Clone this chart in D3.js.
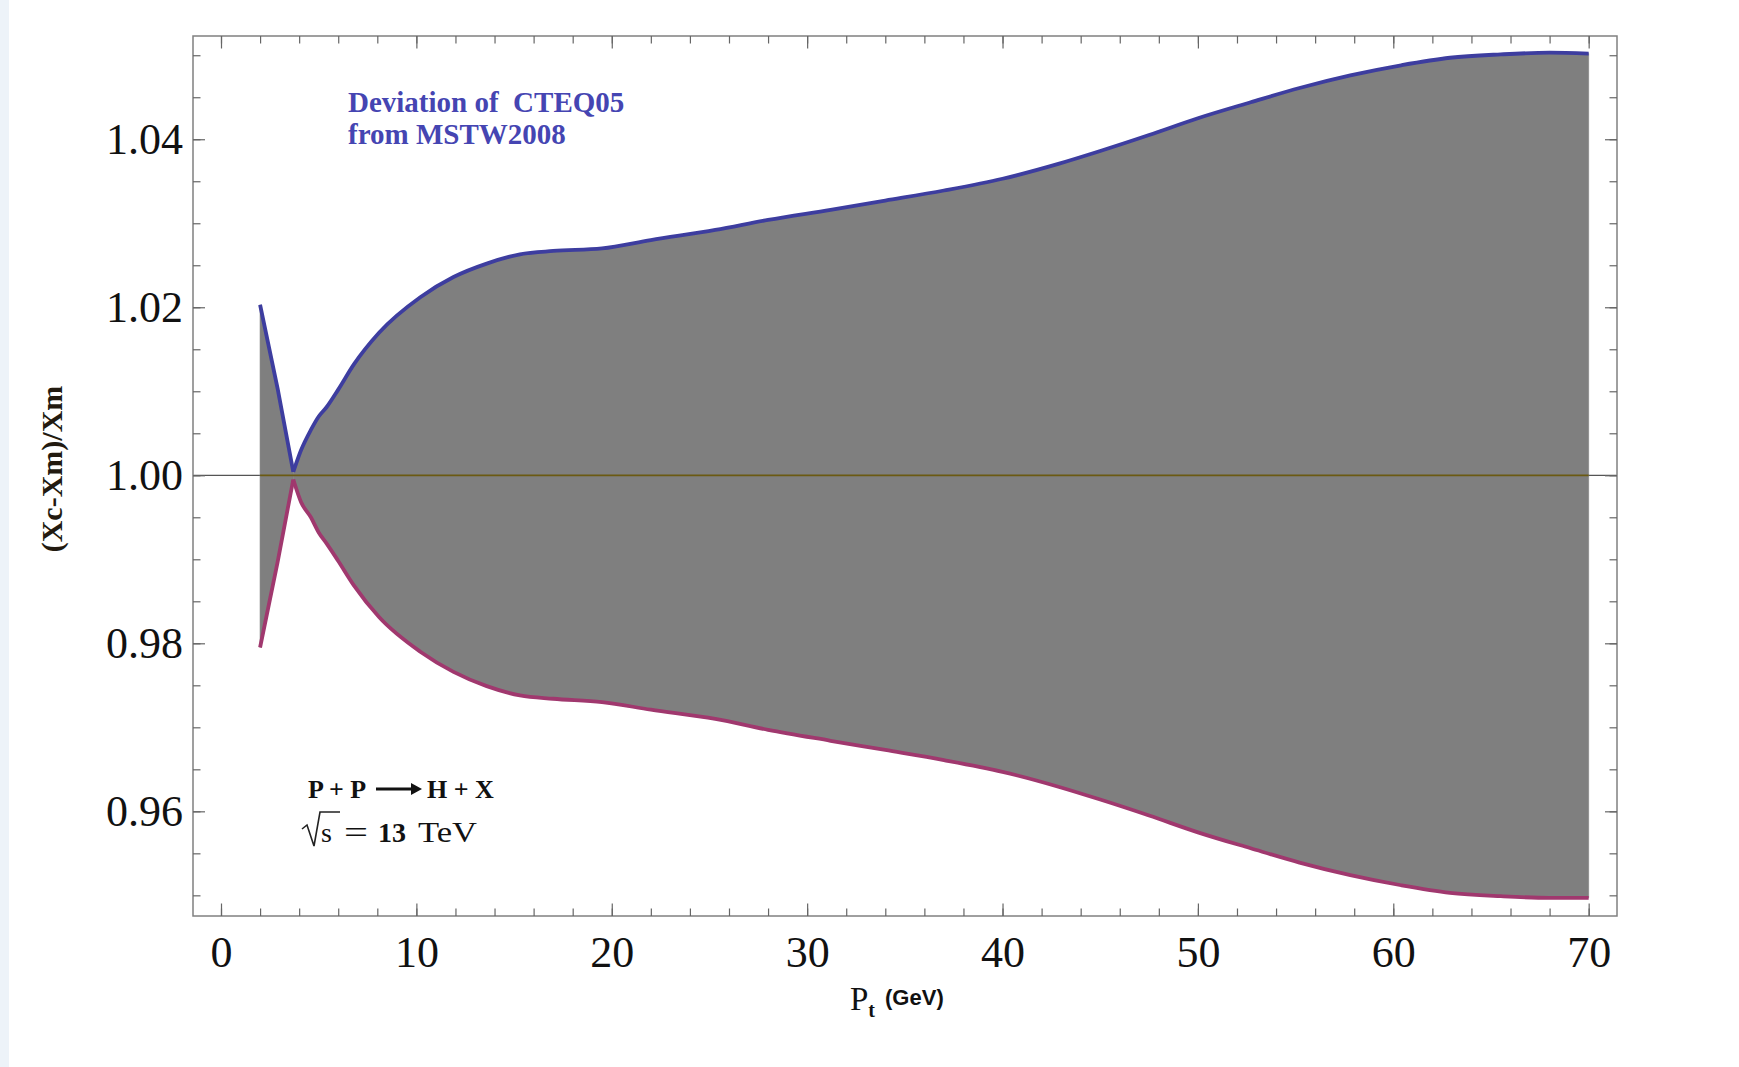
<!DOCTYPE html>
<html>
<head>
<meta charset="utf-8">
<script src="https://cdn.jsdelivr.net/npm/d3@7"></script>
<style>
  html, body { margin: 0; padding: 0; background: #ffffff; }
  svg { display: block; }
  text.pre { white-space: pre; }
</style>
</head>
<body>
<svg id="chart" width="1739" height="1067"></svg>
<script>
// Transverse momentum of the Higgs boson (GeV)
const pt = [2, 2.9, 3.7, 4.1, 4.6, 5.0, 5.4, 6.0, 6.8, 8.1, 10.2, 11.9, 13.6, 15.3, 17.0, 19.5,
            22, 25.3, 28, 31.2, 34, 37, 40, 42.9, 45, 47.5, 50, 52.7, 55.2, 57.8, 60.4, 62.9,
            65.5, 68, 70];

// Upper edge of the CTEQ05 / MSTW2008 deviation band
const upperBand = [1.0203, 1.0103, 1.0004, 1.0030, 1.0054, 1.0070, 1.0081, 1.0102, 1.0132,
                   1.0170, 1.0212, 1.0236, 1.0252, 1.0263, 1.0267, 1.0270, 1.0280, 1.0292,
                   1.0304, 1.0316, 1.0327, 1.0339, 1.0353, 1.0371, 1.0386, 1.0405, 1.0425,
                   1.0444, 1.0461, 1.0476, 1.0488, 1.0497, 1.0501, 1.0503, 1.0502];

// Lower edge of the band
const lowerBand = [0.9795, 0.9897, 0.9995, 0.9968, 0.9950, 0.9932, 0.9919, 0.9898, 0.9869,
                   0.9831, 0.9790, 0.9766, 0.9749, 0.9738, 0.9734, 0.9730, 0.9721, 0.9710,
                   0.9697, 0.9684, 0.9673, 0.9661, 0.9647, 0.9629, 0.9614, 0.9595, 0.9575,
                   0.9556, 0.9539, 0.9524, 0.9512, 0.9503, 0.9499, 0.9497, 0.9497];

// Reference ratio (no deviation)
const referenceLevel = 1.0;

// Axis ticks
const xMajorTicks = [0, 10, 20, 30, 40, 50, 60, 70];
const xMinorTicks = d3.range(0, 71, 2);
const yMajorTicks = [0.96, 0.98, 1.00, 1.02, 1.04];
const yTickLabels = ["0.96", "0.98", "1.00", "1.02", "1.04"];
const yMinorTicks = d3.range(0, 21).map(i => +(0.95 + i * 0.005).toFixed(3));

const svg = d3.select("#chart");

// Plot frame and scales
const frame = { left: 193, right: 1617, top: 36, bottom: 916 };
const x = d3.scaleLinear().domain([-1.433, 71.45]).range([frame.left, frame.right]);
const y = d3.scaleLinear().domain([0.94754, 1.05229]).range([frame.bottom, frame.top]);

// Faint strip on the far left of the page
svg.append("rect").attr("x", 0).attr("y", 0).attr("width", 9).attr("height", 1067)
  .attr("fill", "#edf3f9");

const rows = pt.map((p, i) => ({ p, hi: upperBand[i], lo: lowerBand[i] }));
// The band pinches to a sharp point at the third sample; draw the left part straight
const cusp = 2;
const segments = [
  { data: rows.slice(0, cusp + 1), curve: d3.curveLinear },
  { data: rows.slice(cusp), curve: d3.curveMonotoneX }
];

// Horizontal axis line at ratio 1
svg.append("line")
  .attr("x1", frame.left).attr("x2", frame.right)
  .attr("y1", y(referenceLevel)).attr("y2", y(referenceLevel))
  .attr("stroke", "#555555").attr("stroke-width", 1.3);

// Filled band
segments.forEach(seg => {
  svg.append("path")
    .datum(seg.data)
    .attr("fill", "#7f7f7f")
    .attr("stroke", "#7f7f7f")
    .attr("stroke-width", 0.6)
    .attr("d", d3.area().curve(seg.curve).x(d => x(d.p)).y0(d => y(d.lo)).y1(d => y(d.hi)));
});

// Reference level inside the band
svg.append("line")
  .attr("x1", x(pt[0])).attr("x2", x(pt[pt.length - 1]))
  .attr("y1", y(referenceLevel)).attr("y2", y(referenceLevel))
  .attr("stroke", "#6b5a12").attr("stroke-width", 1.8);

// Band edges
const edges = [
  { key: "lo", color: "#a0386e" },
  { key: "hi", color: "#3d3d9f" }
];
edges.forEach(e => {
  segments.forEach(seg => {
    svg.append("path")
      .datum(seg.data)
      .attr("fill", "none")
      .attr("stroke", e.color)
      .attr("stroke-width", 3.8)
      .attr("stroke-linejoin", "round")
      .attr("d", d3.line().curve(seg.curve).x(d => x(d.p)).y(d => y(d[e.key])));
  });
});

// Frame
svg.append("rect")
  .attr("x", frame.left).attr("y", frame.top)
  .attr("width", frame.right - frame.left).attr("height", frame.bottom - frame.top)
  .attr("fill", "none").attr("stroke", "#808080").attr("stroke-width", 1.5);

// Axes: ticks point inward on all four sides
function styleAxis(g) {
  g.select(".domain").remove();
  g.selectAll(".tick line").attr("stroke", "#666666").attr("stroke-width", 1.2);
}

const tickFont = "'Liberation Serif', 'Times New Roman', serif";

// bottom
svg.append("g").attr("transform", `translate(0,${frame.bottom})`)
  .call(d3.axisBottom(x).tickValues(xMinorTicks).tickSizeInner(-7.5).tickSizeOuter(0).tickFormat(""))
  .call(styleAxis);
svg.append("g").attr("transform", `translate(0,${frame.bottom})`)
  .call(d3.axisBottom(x).tickValues(xMajorTicks).tickSizeInner(-12.5).tickSizeOuter(0).tickPadding(20)
    .tickFormat(d3.format("d")))
  .call(styleAxis)
  .call(g => g.selectAll("text").attr("font-family", tickFont).attr("font-size", 44).attr("fill", "#111"));

// top
svg.append("g").attr("transform", `translate(0,${frame.top})`)
  .call(d3.axisTop(x).tickValues(xMinorTicks).tickSizeInner(-7.5).tickSizeOuter(0).tickFormat(""))
  .call(styleAxis);
svg.append("g").attr("transform", `translate(0,${frame.top})`)
  .call(d3.axisTop(x).tickValues(xMajorTicks).tickSizeInner(-12.5).tickSizeOuter(0).tickFormat(""))
  .call(styleAxis);

// left
svg.append("g").attr("transform", `translate(${frame.left},0)`)
  .call(d3.axisLeft(y).tickValues(yMinorTicks).tickSizeInner(-7.5).tickSizeOuter(0).tickFormat(""))
  .call(styleAxis);
svg.append("g").attr("transform", `translate(${frame.left},0)`)
  .call(d3.axisLeft(y).tickValues(yMajorTicks).tickSizeInner(-12).tickSizeOuter(0).tickPadding(10)
    .tickFormat((d, i) => yTickLabels[i]))
  .call(styleAxis)
  .call(g => g.selectAll("text").attr("font-family", tickFont).attr("font-size", 44).attr("fill", "#111"));

// right
svg.append("g").attr("transform", `translate(${frame.right},0)`)
  .call(d3.axisRight(y).tickValues(yMinorTicks).tickSizeInner(-7.5).tickSizeOuter(0).tickFormat(""))
  .call(styleAxis);
svg.append("g").attr("transform", `translate(${frame.right},0)`)
  .call(d3.axisRight(y).tickValues(yMajorTicks).tickSizeInner(-12).tickSizeOuter(0).tickFormat(""))
  .call(styleAxis);

// Y axis title
svg.append("text")
  .attr("transform", "translate(62,469) rotate(-90)")
  .attr("text-anchor", "middle")
  .attr("font-family", tickFont)
  .attr("font-weight", "bold")
  .attr("font-size", 30)
  .attr("fill", "#221a10")
  .text("(Xc-Xm)/Xm");

// X axis title: P_t (GeV)
const xt = svg.append("text").attr("x", 850).attr("y", 1010).attr("font-family", tickFont).attr("fill", "#111");
xt.append("tspan").attr("font-size", 33).text("P");
xt.append("tspan").attr("font-size", 20).attr("font-weight", "bold").attr("dy", 7).text("t");
xt.append("tspan").attr("font-size", 22).attr("dy", -12).attr("dx", 10)
  .attr("font-family", "'Liberation Sans Narrow', 'Liberation Sans', sans-serif")
  .attr("font-weight", "bold").text("(GeV)");

// Caption of the band
const cap = svg.append("g")
  .attr("font-family", tickFont).attr("font-weight", "bold").attr("font-size", 29)
  .attr("fill", "#4545b2");
cap.append("text").attr("class", "pre").attr("x", 348).attr("y", 112)
  .attr("xml:space", "preserve").text("Deviation of  CTEQ05");
cap.append("text").attr("x", 348).attr("y", 144).text("from MSTW2008");

// Process label
const proc = svg.append("g").attr("font-family", tickFont).attr("fill", "#111");
proc.append("text").attr("class", "pre").attr("x", 308).attr("y", 798).attr("font-weight", "bold").attr("font-size", 26)
  .text("P + P");
proc.append("line").attr("x1", 376).attr("x2", 414).attr("y1", 789).attr("y2", 789)
  .attr("stroke", "#111").attr("stroke-width", 3);
proc.append("path").attr("d", "M411,783 L422,789 L411,795 Z").attr("fill", "#111");
proc.append("text").attr("class", "pre").attr("x", 427).attr("y", 798).attr("font-weight", "bold").attr("font-size", 26)
  .text("H + X");

// Collision energy: sqrt(s) = 13 TeV
proc.append("path")
  .attr("d", "M302,829 L307,825 L314,846 L320,812 L340,812")
  .attr("fill", "none").attr("stroke", "#222").attr("stroke-width", 1.6);
proc.append("text").attr("x", 321).attr("y", 842).attr("font-size", 28).text("s");
proc.append("text").attr("x", 344).attr("y", 843).attr("font-size", 32)
  .attr("textLength", 24).attr("lengthAdjust", "spacingAndGlyphs").text("=");
proc.append("text").attr("x", 378).attr("y", 842).attr("font-size", 28).attr("font-weight", "bold").text("13");
proc.append("text").attr("x", 418).attr("y", 842).attr("font-size", 29)
  .attr("textLength", 59).attr("lengthAdjust", "spacingAndGlyphs").text("TeV");
</script>
</body>
</html>
